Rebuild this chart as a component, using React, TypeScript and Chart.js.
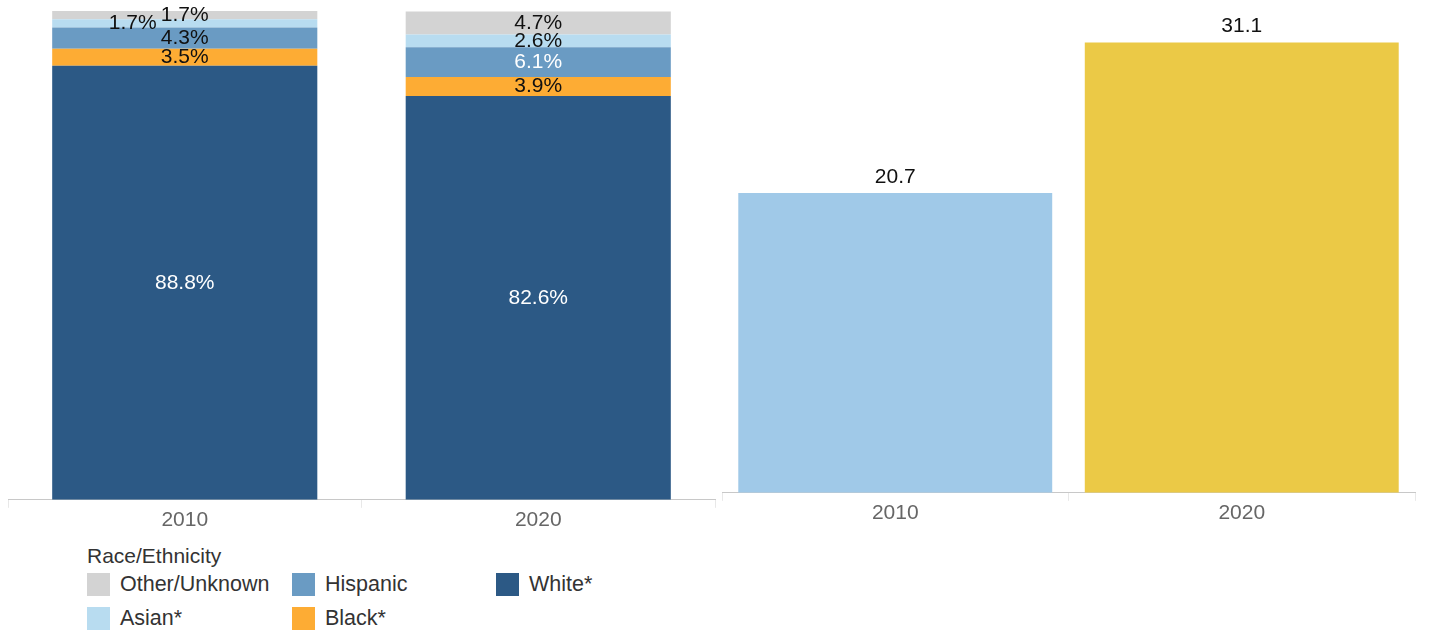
import React, { useEffect, useRef } from "react";
import { Chart, registerables } from "chart.js";

Chart.register(...registerables);

const years = ["2010", "2020"];
const seriesNames = ["White*", "Black*", "Hispanic", "Asian*", "Other/Unknown"];
const whiteVals = [88.8, 82.6];
const blackVals = [3.5, 3.9];
const hispanicVals = [4.3, 6.1];
const asianVals = [1.7, 2.6];
const otherVals = [1.7, 4.7];
const totalVals = [20.7, 31.1];

const seriesColors = ["#2c5985", "#fdac34", "#6a9bc3", "#b8dcf0", "#d3d3d3"];
const labelColors = [
  ["#ffffff", "#ffffff"],
  ["#111111", "#111111"],
  ["#111111", "#ffffff"],
  ["#111111", "#111111"],
  ["#111111", "#111111"],
];
const labelDx = [
  [0, 0],
  [0, 0],
  [0, 0],
  [-52, 0],
  [0, 0],
];
const totalColors = ["#a0c9e8", "#ebc946"];

const FONT = "'Liberation Sans', Arial, sans-serif";

const stackLabelPlugin = {
  id: "stackLabels",
  afterDatasetsDraw(chart: any) {
    const ctx = chart.ctx;
    ctx.save();
    ctx.font = `21px ${FONT}`;
    ctx.textAlign = "center";
    ctx.textBaseline = "middle";
    chart.data.datasets.forEach((ds: any, di: number) => {
      const meta = chart.getDatasetMeta(di);
      meta.data.forEach((el: any, i: number) => {
        const v = ds.data[i];
        ctx.fillStyle = labelColors[di][i];
        ctx.fillText(v.toFixed(1) + "%", el.x + labelDx[di][i], (el.y + el.base) / 2);
      });
    });
    ctx.restore();
  },
};

const topLabelPlugin = {
  id: "topLabels",
  afterDatasetsDraw(chart: any) {
    const ctx = chart.ctx;
    ctx.save();
    ctx.font = `21px ${FONT}`;
    ctx.textAlign = "center";
    ctx.textBaseline = "middle";
    ctx.fillStyle = "#111111";
    const meta = chart.getDatasetMeta(0);
    meta.data.forEach((el: any, i: number) => {
      ctx.fillText(totalVals[i].toFixed(1), el.x, el.y - 16);
    });
    ctx.restore();
  },
};

const xAxis = () => ({
  grid: {
    display: true,
    drawOnChartArea: false,
    drawTicks: true,
    tickLength: 8,
    offset: true,
    color: "#e8e8e8",
  },
  border: { display: true, dash: [3, 2], color: "#c8c8c8" },
  ticks: {
    color: "#666666",
    font: { family: FONT, size: 21 },
    padding: 0,
  },
});

export default function App() {
  const leftRef = useRef<HTMLCanvasElement>(null);
  const rightRef = useRef<HTMLCanvasElement>(null);

  useEffect(() => {
    const stackVals = [whiteVals, blackVals, hispanicVals, asianVals, otherVals];
    const left = new Chart(leftRef.current!, {
      type: "bar",
      data: {
        labels: years,
        datasets: stackVals.map((vals, i) => ({
          label: seriesNames[i],
          data: vals,
          backgroundColor: seriesColors[i],
          borderWidth: 0,
          barPercentage: 0.75,
          categoryPercentage: 1,
        })),
      },
      options: {
        animation: false,
        responsive: false,
        maintainAspectRatio: false,
        layout: { padding: { left: 8, right: 9, top: 11, bottom: 7 } },
        plugins: { legend: { display: false }, tooltip: { enabled: false } },
        scales: {
          x: { stacked: true, ...xAxis() },
          y: { stacked: true, display: false, min: 0, max: 100 },
        },
      },
      plugins: [stackLabelPlugin],
    });

    const right = new Chart(rightRef.current!, {
      type: "bar",
      data: {
        labels: years,
        datasets: [
          {
            label: "Total",
            data: totalVals,
            backgroundColor: totalColors,
            borderWidth: 0,
            barPercentage: 0.906,
            categoryPercentage: 1,
          },
        ],
      },
      options: {
        animation: false,
        responsive: false,
        maintainAspectRatio: false,
        layout: { padding: { left: 6, right: 14, top: 15, bottom: 14 } },
        plugins: { legend: { display: false }, tooltip: { enabled: false } },
        scales: {
          x: xAxis(),
          y: { display: false, min: 0, max: 33 },
        },
      },
      plugins: [topLabelPlugin],
    });

    return () => {
      left.destroy();
      right.destroy();
    };
  }, []);

  const legendOrder = [4, 3, 2, 1, 0];
  const colX = [87, 292, 496];
  const rowY = [573, 607];

  return (
    <div style={{ position: "absolute", left: 0, top: 0, width: 1429, height: 630, background: "#fff", fontFamily: FONT, overflow: "hidden" }}>
      <canvas ref={leftRef} width={724} height={540} style={{ position: "absolute", left: 0, top: 0, width: 724, height: 540 }} />
      <canvas ref={rightRef} width={713} height={540} style={{ position: "absolute", left: 716, top: 0, width: 713, height: 540 }} />
      <div style={{ position: "absolute", left: 87, top: 543, fontSize: 21, color: "#333", lineHeight: "26px" }}>Race/Ethnicity</div>
      {legendOrder.map((si, k) => {
        const col = Math.floor(k / 2);
        const row = k % 2;
        return (
          <div key={si} style={{ position: "absolute", left: colX[col], top: rowY[row], height: 23, display: "flex", alignItems: "center" }}>
            <div style={{ width: 23, height: 23, background: seriesColors[si] }} />
            <span style={{ marginLeft: 10, fontSize: 21.5, color: "#333", lineHeight: "23px", whiteSpace: "nowrap" }}>{seriesNames[si]}</span>
          </div>
        );
      })}
    </div>
  );
}
